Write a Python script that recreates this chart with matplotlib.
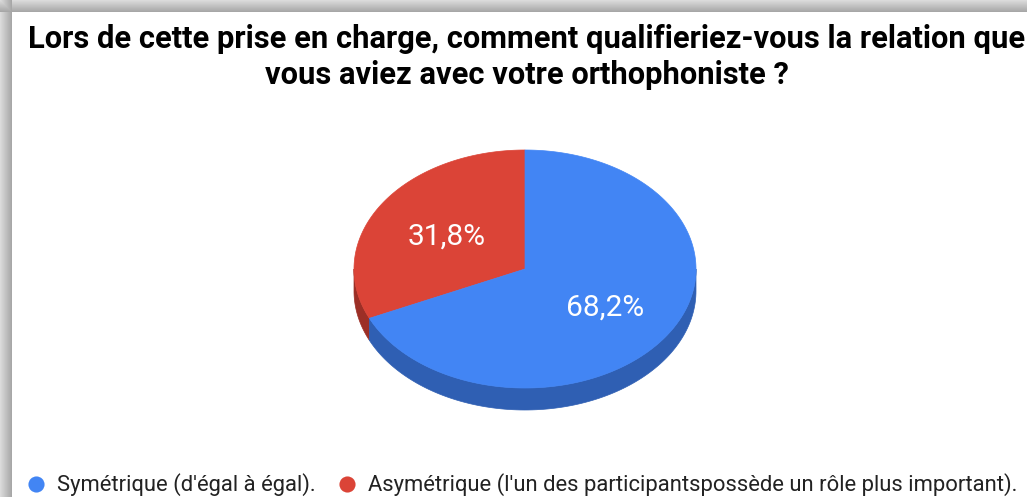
import numpy as np
import matplotlib.pyplot as plt
from matplotlib.patches import Polygon

# data
labels = ["Symétrique (d'égal à égal).",
          "Asymétrique (l'un des participantspossède un rôle plus important)."]
values = [68.2, 31.8]
pct_text = ["68,2%", "31,8%"]
colors = ["#4285f4", "#db4437"]
side_colors = ["#2f5fb3", "#9c2f26"]

title_lines = ["Lors de cette prise en charge, comment qualifieriez-vous la relation que",
               "vous aviez avec votre orthophoniste ?"]

W, H = 1027, 497
fig = plt.figure(figsize=(W / 100, H / 100), dpi=100)
ax = fig.add_axes([0, 0, 1, 1])
ax.set_xlim(0, W)
ax.set_ylim(0, H)
ax.axis("off")

# grey shadow frame on the left and top
bg = np.ones((H, W, 3))
band = 12
xs = np.arange(W)
ys = np.arange(H)
left = np.where(xs < band, 0.86 - 0.22 * xs / band, 1.0)
top = np.where(ys < band, 0.86 - 0.22 * ys / band, 1.0)
shade = np.minimum(left[None, :], top[:, None])
bg *= shade[:, :, None]
ax.imshow(bg, extent=(0, W, 0, H), aspect="auto", zorder=0)

# title
for i, line in enumerate(title_lines):
    ax.text(527, H - 48 - 36 * i, line, ha="center", va="baseline",
            fontsize=22.2, fontweight="bold", family="Roboto", color="#000000")

# 3d pie
cx, cy = 525, H - 269
rx, ry = 171, 119
depth = 22

fracs = np.array(values) / sum(values)
# red slice goes counter-clockwise from 12 o'clock, blue takes the rest
order = [1, 0]
start = 90.0
spans = {}
for idx in order:
    ext = fracs[idx] * 360
    spans[idx] = (start, start + ext)
    start += ext

def ell(th, dy=0):
    t = np.radians(th)
    return np.column_stack([cx + rx * np.cos(t), cy + ry * np.sin(t) - dy])

# visible side walls (front half: 180..360 deg)
for idx, (a, b) in spans.items():
    for off in (0, 360):
        lo = max(a, 180 + off)
        hi = min(b, 360 + off)
        if hi > lo:
            th = np.linspace(lo, hi, 120)
            pts = np.vstack([ell(th), ell(th[::-1], depth)])
            ax.add_patch(Polygon(pts, closed=True, fc=side_colors[idx],
                                 ec=side_colors[idx], lw=0.5, zorder=2))

# top faces
for idx, (a, b) in spans.items():
    th = np.linspace(a, b, 300)
    pts = np.vstack([[cx, cy], ell(th)])
    ax.add_patch(Polygon(pts, closed=True, fc=colors[idx], ec=colors[idx],
                         lw=0.5, zorder=3))
    mid = np.radians((a + b) / 2)
    f = 0.55
    ax.text(cx + f * rx * np.cos(mid) + 1, cy + f * ry * np.sin(mid) - 3,
            pct_text[idx], ha="center", va="center", color="white",
            fontsize=21.5, family="Roboto", zorder=4)

# legend
leg_x = [36, 347]
leg_y = H - 484
for i in range(len(labels)):
    ax.scatter([leg_x[i]], [leg_y], s=135, color=colors[i], zorder=4, lw=0)
    ax.text(leg_x[i] + 21, H - 491, labels[i], ha="left", va="baseline",
            fontsize=15.8, family="Roboto", color="#222222", zorder=4)

fig.savefig("out.png", dpi=100)
